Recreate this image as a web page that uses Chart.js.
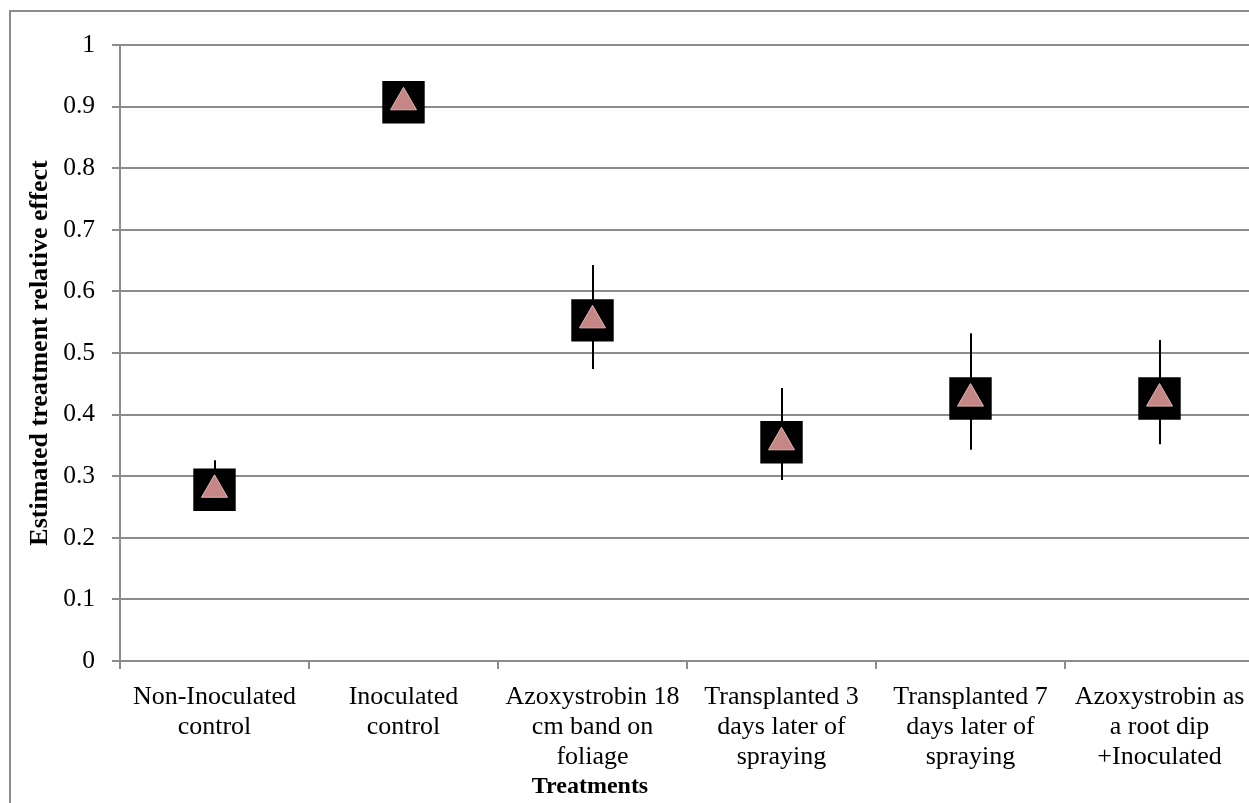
<!DOCTYPE html>
<html>
<head>
<meta charset="utf-8">
<script src="https://cdn.jsdelivr.net/npm/chart.js@4/dist/chart.umd.min.js"></script>
<style>
  html, body { margin: 0; padding: 0; background: #fff; overflow: hidden; }
  /* plot runs past the right edge of the window, as in the original */
  #wrap { position: relative; width: 1284px; height: 803px; }
</style>
</head>
<body>
<div id="wrap"><canvas id="chart"></canvas></div>
<script>
'use strict'

const treatments = [
  ['Non-Inoculated', 'control'],
  ['Inoculated', 'control'],
  ['Azoxystrobin 18', 'cm band on', 'foliage'],
  ['Transplanted 3', 'days later of', 'spraying'],
  ['Transplanted 7', 'days later of', 'spraying'],
  ['Azoxystrobin as', 'a root dip', '+Inoculated']
]
const relativeEffect = [0.278, 0.907, 0.553, 0.355, 0.426, 0.426]
const errorLow = [0.25, 0.88, 0.474, 0.294, 0.343, 0.352]
const errorHigh = [0.326, 0.93, 0.643, 0.443, 0.532, 0.521]

const GRAY = '#8c8c8c'
const serif = "'Liberation Serif', 'Times New Roman', serif"

// vertical error bars, drawn underneath the markers
const errorBarsPlugin = {
  id: 'errorBars',
  beforeDatasetsDraw (chart) {
    const { ctx, scales: { x, y } } = chart
    ctx.save()
    ctx.strokeStyle = '#000'
    ctx.lineWidth = 2
    errorLow.forEach((low, i) => {
      const xPixel = Math.round(x.getPixelForValue(i))
      ctx.beginPath()
      ctx.moveTo(xPixel, y.getPixelForValue(low))
      ctx.lineTo(xPixel, y.getPixelForValue(errorHigh[i]))
      ctx.stroke()
    })
    ctx.restore()
  }
}

// frame round the whole chart (only top and left edges are on screen)
const framePlugin = {
  id: 'frame',
  beforeDraw (chart) {
    const { ctx, width, height } = chart
    ctx.save()
    ctx.strokeStyle = GRAY
    ctx.lineWidth = 2
    ctx.beginPath()
    ctx.moveTo(10, height + 2)
    ctx.lineTo(10, 11)
    ctx.lineTo(width + 2, 11)
    ctx.stroke()
    ctx.restore()
  }
}

// x axis title sits centred on the visible part of the window, not the whole plot
const xTitlePlugin = {
  id: 'xTitle',
  afterDraw (chart) {
    const { ctx } = chart
    ctx.save()
    ctx.fillStyle = '#000'
    ctx.font = 'bold 24px ' + serif
    ctx.textAlign = 'center'
    ctx.textBaseline = 'middle'
    ctx.fillText('Treatments', 590, 787)
    ctx.restore()
  }
}

const ctx = document.getElementById('chart').getContext('2d')
new Chart(ctx, {
  type: 'line',
  data: {
    labels: treatments,
    datasets: [
      {
        // pink triangles on top
        data: relativeEffect,
        order: 0,
        showLine: false,
        pointStyle: 'triangle',
        pointRadius: 15,
        pointBackgroundColor: '#c58686',
        pointBorderColor: '#e3b3b3',
        pointBorderWidth: 1
      },
      {
        // black squares behind
        data: relativeEffect,
        order: 1,
        showLine: false,
        pointStyle: 'rect',
        pointRadius: 30,
        pointBackgroundColor: '#000',
        pointBorderColor: '#000',
        pointBorderWidth: 0
      }
    ]
  },
  options: {
    responsive: true,
    maintainAspectRatio: false,
    animation: false,
    layout: {
      padding: { top: 45, left: 0, right: 2, bottom: 0 }
    },
    plugins: {
      legend: { display: false },
      tooltip: { enabled: false }
    },
    scales: {
      x: {
        type: 'category',
        offset: true,
        afterFit (scale) {
          scale.height = 142
          scale.paddingLeft = 0
          scale.paddingRight = 0
        },
        border: { color: GRAY, width: 2 },
        grid: {
          offset: true,
          drawOnChartArea: false,
          drawTicks: true,
          tickLength: 8,
          color: GRAY,
          lineWidth: 2
        },
        ticks: {
          autoSkip: false,
          maxRotation: 0,
          minRotation: 0,
          padding: 13,
          color: '#000',
          font: { family: serif, size: 26, lineHeight: 1.154 }
        }
      },
      y: {
        min: 0,
        max: 1,
        afterFit (scale) { scale.width = 120 },
        border: { color: GRAY, width: 2 },
        grid: {
          color: GRAY,
          lineWidth: 2,
          tickLength: 8
        },
        ticks: {
          stepSize: 0.1,
          padding: 17,
          color: '#000',
          font: { family: serif, size: 25.5 },
          callback: (v) => String(Math.round(v * 10) / 10)
        },
        title: {
          display: true,
          text: 'Estimated treatment relative effect',
          color: '#000',
          padding: { top: 25, bottom: 0 },
          font: { family: serif, size: 26, weight: 'bold', lineHeight: 1.2 }
        }
      }
    }
  },
  plugins: [framePlugin, errorBarsPlugin, xTitlePlugin]
})
</script>
</body>
</html>
